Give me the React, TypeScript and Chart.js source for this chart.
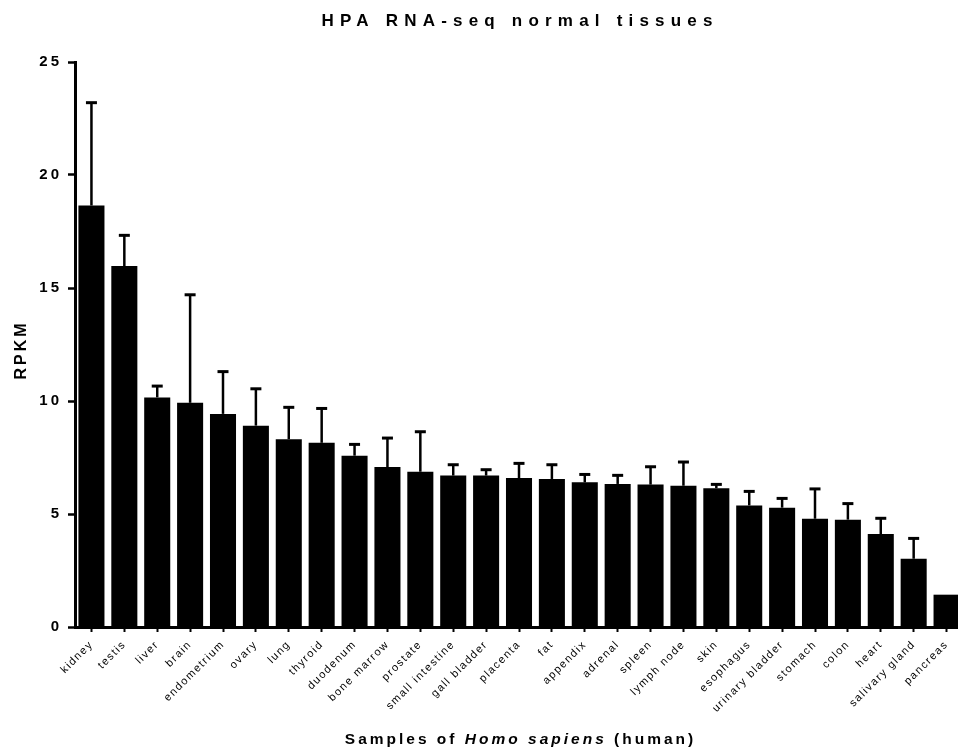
import React, { useEffect, useRef } from 'react';
import { Chart, registerables } from 'chart.js';

Chart.register(...registerables);

const categories = [
  'kidney', 'testis', 'liver', 'brain', 'endometrium', 'ovary', 'lung', 'thyroid',
  'duodenum', 'bone marrow', 'prostate', 'small intestine', 'gall bladder', 'placenta',
  'fat', 'appendix', 'adrenal', 'spleen', 'lymph node', 'skin', 'esophagus',
  'urinary bladder', 'stomach', 'colon', 'heart', 'salivary gland', 'pancreas',
];

const rpkm = [
  18.65, 15.97, 10.16, 9.92, 9.43, 8.91, 8.31, 8.15,
  7.58, 7.08, 6.87, 6.70, 6.70, 6.59,
  6.55, 6.40, 6.33, 6.30, 6.25, 6.14, 5.38,
  5.28, 4.79, 4.75, 4.11, 3.02, 1.43,
];

const sd = [
  4.55, 1.36, 0.50, 4.78, 1.87, 1.63, 1.41, 1.52,
  0.50, 1.28, 1.77, 0.48, 0.26, 0.65,
  0.63, 0.35, 0.38, 0.79, 1.05, 0.17, 0.62,
  0.41, 1.32, 0.71, 0.70, 0.90, 0,
];

const yMin = 0;
const yMax = 25;
const yStep = 5;

const chartTitle = 'HPA RNA-seq normal tissues';
const yTitle = 'RPKM';
const xTitleParts = [
  { text: 'Samples of ', italic: false },
  { text: 'Homo sapiens', italic: true },
  { text: ' (human)', italic: false },
];

const FONT = '"Liberation Sans", Arial, Helvetica, sans-serif';

function spacedWidth(ctx: CanvasRenderingContext2D, text: string, font: string, spacing: number) {
  ctx.save();
  ctx.font = font;
  (ctx as any).letterSpacing = spacing + 'px';
  const w = ctx.measureText(text).width;
  ctx.restore();
  return w;
}

const errorBarPlugin = {
  id: 'errorBars',
  afterDatasetsDraw(chart: any) {
    const ctx = chart.ctx;
    const meta = chart.getDatasetMeta(0);
    const yScale = chart.scales.y;
    ctx.save();
    ctx.strokeStyle = '#000';
    meta.data.forEach((el: any, i: number) => {
      const e = sd[i];
      if (!e) return;
      const x = el.x;
      const yTop = yScale.getPixelForValue(rpkm[i] + e);
      const yBar = el.y;
      ctx.lineWidth = 2.5;
      ctx.beginPath();
      ctx.moveTo(x, yBar);
      ctx.lineTo(x, yTop);
      ctx.stroke();
      ctx.lineWidth = 3;
      ctx.beginPath();
      ctx.moveTo(x - 5.5, yTop);
      ctx.lineTo(x + 5.5, yTop);
      ctx.stroke();
    });
    ctx.restore();
  },
};

const textPlugin = {
  id: 'customText',
  beforeDraw(chart: any) {
    const ctx = chart.ctx;
    (ctx as any).letterSpacing = '1.5px';
    const ys: any = chart.scales.y;
    if (ys && !ys.__patched) {
      const orig = ys.drawLabels.bind(ys);
      ys.drawLabels = (area: any) => {
        const c: any = chart.ctx;
        const prev = c.letterSpacing;
        c.letterSpacing = '3px';
        orig(area);
        c.letterSpacing = prev;
      };
      ys.__patched = true;
    }
  },
  afterDraw(chart: any) {
    const ctx: any = chart.ctx;
    const area = chart.chartArea;
    const cx = (area.left + area.right) / 2;
    ctx.save();
    ctx.fillStyle = '#000';
    ctx.textBaseline = 'alphabetic';
    ctx.textAlign = 'left';

    // Title
    const tFont = `bold 17px ${FONT}`;
    const tSp = 6.2;
    const tw = spacedWidth(ctx, chartTitle, tFont, tSp) - tSp;
    ctx.font = tFont;
    ctx.letterSpacing = tSp + 'px';
    ctx.fillText(chartTitle, cx - 2 - tw / 2, 26);

    // X title (mixed italic)
    const xSp = 3;
    const parts = xTitleParts.map((p) => {
      const f = `${p.italic ? 'italic ' : ''}bold 15.5px ${FONT}`;
      return { ...p, font: f, w: spacedWidth(ctx, p.text, f, xSp) };
    });
    const total = parts.reduce((s, p) => s + p.w, 0) - xSp;
    let x = cx - total / 2;
    ctx.letterSpacing = xSp + 'px';
    parts.forEach((p) => {
      ctx.font = p.font;
      ctx.fillText(p.text, x, 744);
      x += p.w;
    });

    // Y title
    const yFont = `bold 16px ${FONT}`;
    const ySp = 3;
    const yw = spacedWidth(ctx, yTitle, yFont, ySp) - ySp;
    const cy = (area.top + area.bottom) / 2 + 7;
    ctx.translate(26, cy);
    ctx.rotate(-Math.PI / 2);
    ctx.font = yFont;
    ctx.letterSpacing = ySp + 'px';
    ctx.fillText(yTitle, -yw / 2, 0);
    ctx.restore();
  },
};

export default function App() {
  const canvasRef = useRef<HTMLCanvasElement | null>(null);

  useEffect(() => {
    const canvas = canvasRef.current;
    if (!canvas) return;
    const chart = new Chart(canvas, {
      type: 'bar',
      data: {
        labels: categories,
        datasets: [
          {
            data: rpkm,
            backgroundColor: '#000',
            borderWidth: 0,
            barPercentage: 0.9,
            categoryPercentage: 0.88,
          },
        ],
      },
      options: {
        animation: false,
        responsive: false,
        devicePixelRatio: 1,
        layout: { padding: { top: 62, left: 0, right: 0, bottom: 0 } },
        plugins: {
          legend: { display: false },
          tooltip: { enabled: false },
          title: { display: false },
        },
        scales: {
          x: {
            offset: true,
            afterFit(scale: any) {
              scale.height = 125;
            },
            grid: {
              display: true,
              drawOnChartArea: false,
              drawTicks: true,
              tickLength: 5,
              tickWidth: 2,
              tickColor: '#000',
              offset: false,
            },
            border: { display: true, color: '#000', width: 3 },
            ticks: {
              autoSkip: false,
              maxRotation: 45,
              minRotation: 45,
              padding: 6,
              color: '#000',
              font: { family: FONT, size: 11, weight: 'normal' },
            },
          },
          y: {
            min: yMin,
            max: yMax,
            afterFit(scale: any) {
              scale.width = 75;
            },
            grid: {
              display: true,
              drawOnChartArea: false,
              drawTicks: true,
              tickLength: 7,
              tickWidth: 2.5,
              tickColor: '#000',
            },
            border: { display: true, color: '#000', width: 3 },
            ticks: {
              stepSize: yStep,
              padding: 6,
              color: '#000',
              font: { family: FONT, size: 15, weight: 'bold' },
            },
          },
        },
      } as any,
      plugins: [errorBarPlugin, textPlugin],
    });
    return () => chart.destroy();
  }, []);

  return (
    <div
      style={{
        position: 'fixed',
        left: 0,
        top: 0,
        width: 958,
        height: 752,
        overflow: 'hidden',
        background: '#fff',
      }}
    >
      <canvas ref={canvasRef} width={963} height={752} style={{ width: 963, height: 752, display: 'block' }} />
    </div>
  );
}
